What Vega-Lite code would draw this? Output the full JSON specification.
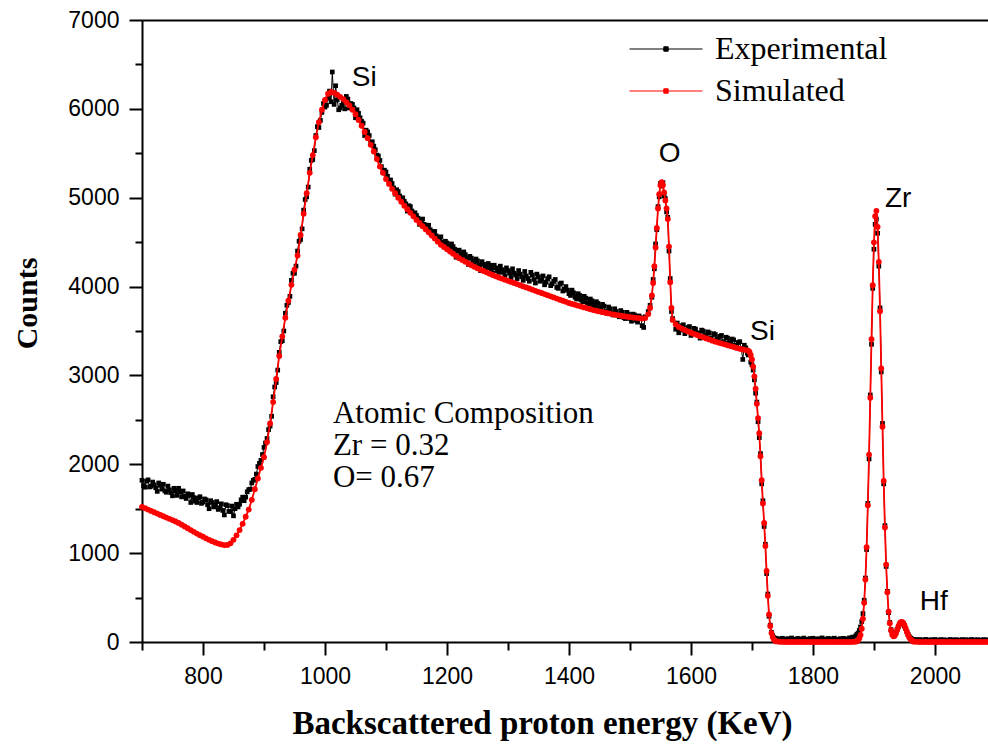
{
 "$schema": "https://vega.github.io/schema/vega-lite/v6.json",
 "width": 846, "height": 622,
 "autosize": {"type": "none"},
 "padding": {"left": 142, "top": 20, "right": 0, "bottom": 104},
 "background": "white",
 "config": {"view": {"stroke": null}, "axis": {"grid": false, "domainColor": "#000", "tickColor": "#000", "labelColor": "#000", "titleColor": "#000", "ticks": true, "tickOpacity": 1, "domainOpacity": 1}},
 "datasets": {
  "spec": [
{"E":700,"Experimental":1820,"Simulated":1520},{"E":705,"Experimental":1742,"Simulated":1505},{"E":710,"Experimental":1825,"Simulated":1490},{"E":715,"Experimental":1753,"Simulated":1475},{"E":720,"Experimental":1770,"Simulated":1460},{"E":725,"Experimental":1695,"Simulated":1445},{"E":730,"Experimental":1765,"Simulated":1430},{"E":735,"Experimental":1775,"Simulated":1415},{"E":740,"Experimental":1685,"Simulated":1400},{"E":745,"Experimental":1713,"Simulated":1386},{"E":750,"Experimental":1645,"Simulated":1372},{"E":755,"Experimental":1703,"Simulated":1356},{"E":760,"Experimental":1730,"Simulated":1340},{"E":765,"Experimental":1633,"Simulated":1320},{"E":770,"Experimental":1640,"Simulated":1300},{"E":775,"Experimental":1668,"Simulated":1280},{"E":780,"Experimental":1570,"Simulated":1260},{"E":785,"Experimental":1625,"Simulated":1240},{"E":790,"Experimental":1570,"Simulated":1220},{"E":795,"Experimental":1635,"Simulated":1202},{"E":800,"Experimental":1575,"Simulated":1185},{"E":805,"Experimental":1600,"Simulated":1167},{"E":810,"Experimental":1500,"Simulated":1150},{"E":815,"Experimental":1570,"Simulated":1135},{"E":820,"Experimental":1545,"Simulated":1120},{"E":825,"Experimental":1492,"Simulated":1108},{"E":830,"Experimental":1555,"Simulated":1098},{"E":835,"Experimental":1430,"Simulated":1091},{"E":840,"Experimental":1535,"Simulated":1093},{"E":845,"Experimental":1467,"Simulated":1110},{"E":850,"Experimental":1420,"Simulated":1150},{"E":855,"Experimental":1550,"Simulated":1200},{"E":860,"Experimental":1550,"Simulated":1260},{"E":865,"Experimental":1630,"Simulated":1330},{"E":870,"Experimental":1630,"Simulated":1410},{"E":875,"Experimental":1715,"Simulated":1490},{"E":880,"Experimental":1790,"Simulated":1600},{"E":885,"Experimental":1830,"Simulated":1720},{"E":890,"Experimental":1975,"Simulated":1840},{"E":895,"Experimental":2045,"Simulated":1960},{"E":900,"Experimental":2190,"Simulated":2080},
{"E":702.5,"Experimental":1760},{"E":707.5,"Experimental":1810},{"E":712.5,"Experimental":1745},{"E":717.5,"Experimental":1800},{"E":722.5,"Experimental":1735},{"E":727.5,"Experimental":1790},{"E":732.5,"Experimental":1720},{"E":737.5,"Experimental":1700},{"E":742.5,"Experimental":1755},{"E":747.5,"Experimental":1680},{"E":752.5,"Experimental":1730},{"E":757.5,"Experimental":1650},{"E":762.5,"Experimental":1690},{"E":767.5,"Experimental":1700},{"E":772.5,"Experimental":1615},{"E":777.5,"Experimental":1650},{"E":782.5,"Experimental":1660},{"E":787.5,"Experimental":1585},{"E":792.5,"Experimental":1620},{"E":797.5,"Experimental":1560},{"E":802.5,"Experimental":1610},{"E":807.5,"Experimental":1545},{"E":812.5,"Experimental":1590},{"E":817.5,"Experimental":1520},{"E":822.5,"Experimental":1580},{"E":827.5,"Experimental":1510},{"E":832.5,"Experimental":1480},{"E":837.5,"Experimental":1545},{"E":842.5,"Experimental":1470},{"E":847.5,"Experimental":1530},{"E":852.5,"Experimental":1500},{"E":857.5,"Experimental":1520},{"E":862.5,"Experimental":1600},{"E":867.5,"Experimental":1590},{"E":872.5,"Experimental":1690},{"E":877.5,"Experimental":1720},{"E":882.5,"Experimental":1820},{"E":887.5,"Experimental":1890},{"E":892.5,"Experimental":2010},{"E":897.5,"Experimental":2110},{"E":902.5,"Experimental":2240},
{"E":905,"Experimental":2290,"Simulated":2250},{"E":910,"Experimental":2430,"Simulated":2460},{"E":915,"Experimental":2760,"Simulated":2700},{"E":920,"Experimental":2920,"Simulated":2960},{"E":925,"Experimental":3260,"Simulated":3220},{"E":930,"Experimental":3390,"Simulated":3440},{"E":935,"Experimental":3700,"Simulated":3650},{"E":940,"Experimental":3820,"Simulated":3840},{"E":945,"Experimental":4070,"Simulated":4020},{"E":950,"Experimental":4150,"Simulated":4190},{"E":955,"Experimental":4400,"Simulated":4350},{"E":960,"Experimental":4530,"Simulated":4580},{"E":965,"Experimental":4860,"Simulated":4820},{"E":970,"Experimental":5010,"Simulated":5050},{"E":975,"Experimental":5320,"Simulated":5280},{"E":980,"Experimental":5430,"Simulated":5480},{"E":985,"Experimental":5700,"Simulated":5680},{"E":990,"Experimental":5790,"Simulated":5850},{"E":995,"Experimental":5960,"Simulated":5990},{"E":1000,"Experimental":6020,"Simulated":6100},{"E":1005,"Experimental":6120,"Simulated":6170},{"E":1010,"Experimental":6080,"Simulated":6190},{"E":1012,"Experimental":6415},{"E":1015,"Experimental":6050,"Simulated":6180},{"E":1020,"Experimental":6100,"Simulated":6160},{"E":1025,"Experimental":6010,"Simulated":6135},{"E":1030,"Experimental":6070,"Simulated":6110},{"E":1035,"Experimental":6140,"Simulated":6075},{"E":1040,"Experimental":6010,"Simulated":6040},{"E":1045,"Experimental":6050,"Simulated":5990},{"E":1050,"Experimental":5900,"Simulated":5940},{"E":1055,"Experimental":5950,"Simulated":5875},{"E":1060,"Experimental":5860,"Simulated":5810},{"E":1065,"Experimental":5700,"Simulated":5740},{"E":1070,"Experimental":5740,"Simulated":5670},{"E":1075,"Experimental":5620,"Simulated":5595},{"E":1080,"Experimental":5580,"Simulated":5520},{"E":1085,"Experimental":5480,"Simulated":5435},{"E":1090,"Experimental":5420,"Simulated":5350},{"E":1095,"Experimental":5300,"Simulated":5280},{"E":1100,"Experimental":5290,"Simulated":5210},
{"E":907.5,"Experimental":2390},{"E":912.5,"Experimental":2540},{"E":917.5,"Experimental":2870},{"E":922.5,"Experimental":3060},{"E":927.5,"Experimental":3380},{"E":932.5,"Experimental":3500},{"E":937.5,"Experimental":3790},{"E":942.5,"Experimental":3890},{"E":947.5,"Experimental":4150},{"E":952.5,"Experimental":4230},{"E":957.5,"Experimental":4510},{"E":962.5,"Experimental":4650},{"E":967.5,"Experimental":4980},{"E":972.5,"Experimental":5120},{"E":977.5,"Experimental":5420},{"E":982.5,"Experimental":5530},{"E":987.5,"Experimental":5800},{"E":992.5,"Experimental":5870},{"E":997.5,"Experimental":6060},{"E":1002.5,"Experimental":6040},{"E":1007.5,"Experimental":6200},{"E":1017.5,"Experimental":6260},{"E":1022.5,"Experimental":5990},{"E":1027.5,"Experimental":6040},{"E":1032.5,"Experimental":6000},{"E":1037.5,"Experimental":6110},{"E":1042.5,"Experimental":6060},{"E":1047.5,"Experimental":6010},{"E":1052.5,"Experimental":5990},{"E":1057.5,"Experimental":5900},{"E":1062.5,"Experimental":5840},{"E":1067.5,"Experimental":5760},{"E":1072.5,"Experimental":5700},{"E":1077.5,"Experimental":5630},{"E":1082.5,"Experimental":5540},{"E":1087.5,"Experimental":5470},{"E":1092.5,"Experimental":5350},{"E":1097.5,"Experimental":5310},
{"E":1105,"Experimental":5180,"Simulated":5155},{"E":1110,"Experimental":5160,"Simulated":5100},{"E":1115,"Experimental":5040,"Simulated":5050},{"E":1120,"Experimental":5070,"Simulated":5000},{"E":1125,"Experimental":4990,"Simulated":4955},{"E":1130,"Experimental":4960,"Simulated":4910},{"E":1135,"Experimental":4850,"Simulated":4870},{"E":1140,"Experimental":4900,"Simulated":4830},{"E":1145,"Experimental":4820,"Simulated":4790},{"E":1150,"Experimental":4800,"Simulated":4750},{"E":1155,"Experimental":4700,"Simulated":4715},{"E":1160,"Experimental":4760,"Simulated":4680},{"E":1165,"Experimental":4660,"Simulated":4645},{"E":1170,"Experimental":4690,"Simulated":4610},{"E":1175,"Experimental":4590,"Simulated":4575},{"E":1180,"Experimental":4620,"Simulated":4540},{"E":1185,"Experimental":4520,"Simulated":4505},{"E":1190,"Experimental":4560,"Simulated":4470},{"E":1195,"Experimental":4480,"Simulated":4445},{"E":1200,"Experimental":4490,"Simulated":4420},{"E":1205,"Experimental":4420,"Simulated":4395},{"E":1210,"Experimental":4450,"Simulated":4370},{"E":1215,"Experimental":4330,"Simulated":4345},{"E":1220,"Experimental":4410,"Simulated":4320},{"E":1225,"Experimental":4340,"Simulated":4300},{"E":1230,"Experimental":4360,"Simulated":4280},{"E":1235,"Experimental":4250,"Simulated":4260},{"E":1240,"Experimental":4320,"Simulated":4240},{"E":1245,"Experimental":4260,"Simulated":4222},{"E":1250,"Experimental":4290,"Simulated":4205},{"E":1255,"Experimental":4180,"Simulated":4190},{"E":1260,"Experimental":4250,"Simulated":4175},{"E":1265,"Experimental":4210,"Simulated":4160},{"E":1270,"Experimental":4240,"Simulated":4145},{"E":1275,"Experimental":4150,"Simulated":4130},{"E":1280,"Experimental":4210,"Simulated":4115},{"E":1285,"Experimental":4160,"Simulated":4102},{"E":1290,"Experimental":4190,"Simulated":4090},{"E":1295,"Experimental":4120,"Simulated":4078},{"E":1300,"Experimental":4180,"Simulated":4065},
{"E":1102.5,"Experimental":5240},{"E":1107.5,"Experimental":5200},{"E":1112.5,"Experimental":5110},{"E":1117.5,"Experimental":5090},{"E":1122.5,"Experimental":5020},{"E":1127.5,"Experimental":5000},{"E":1132.5,"Experimental":4930},{"E":1137.5,"Experimental":4910},{"E":1142.5,"Experimental":4850},{"E":1147.5,"Experimental":4830},{"E":1152.5,"Experimental":4770},{"E":1157.5,"Experimental":4750},{"E":1162.5,"Experimental":4700},{"E":1167.5,"Experimental":4690},{"E":1172.5,"Experimental":4640},{"E":1177.5,"Experimental":4620},{"E":1182.5,"Experimental":4570},{"E":1187.5,"Experimental":4550},{"E":1192.5,"Experimental":4500},{"E":1197.5,"Experimental":4510},{"E":1202.5,"Experimental":4460},{"E":1207.5,"Experimental":4480},{"E":1212.5,"Experimental":4420},{"E":1217.5,"Experimental":4400},{"E":1222.5,"Experimental":4370},{"E":1227.5,"Experimental":4390},{"E":1232.5,"Experimental":4320},{"E":1237.5,"Experimental":4340},{"E":1242.5,"Experimental":4290},{"E":1247.5,"Experimental":4310},{"E":1252.5,"Experimental":4240},{"E":1257.5,"Experimental":4280},{"E":1262.5,"Experimental":4230},{"E":1267.5,"Experimental":4260},{"E":1272.5,"Experimental":4200},{"E":1277.5,"Experimental":4240},{"E":1282.5,"Experimental":4180},{"E":1287.5,"Experimental":4230},{"E":1292.5,"Experimental":4160},{"E":1297.5,"Experimental":4210},
{"E":1305,"Experimental":4100,"Simulated":4052},{"E":1310,"Experimental":4150,"Simulated":4040},{"E":1315,"Experimental":4090,"Simulated":4028},{"E":1320,"Experimental":4140,"Simulated":4015},{"E":1325,"Experimental":4070,"Simulated":4002},{"E":1330,"Experimental":4120,"Simulated":3990},{"E":1335,"Experimental":4060,"Simulated":3978},{"E":1340,"Experimental":4130,"Simulated":3965},{"E":1345,"Experimental":4040,"Simulated":3952},{"E":1350,"Experimental":4110,"Simulated":3940},{"E":1355,"Experimental":4070,"Simulated":3928},{"E":1360,"Experimental":4020,"Simulated":3915},{"E":1365,"Experimental":4090,"Simulated":3902},{"E":1370,"Experimental":4010,"Simulated":3890},{"E":1375,"Experimental":4060,"Simulated":3878},{"E":1380,"Experimental":3990,"Simulated":3865},{"E":1385,"Experimental":4030,"Simulated":3852},{"E":1390,"Experimental":3950,"Simulated":3840},{"E":1395,"Experimental":4000,"Simulated":3828},{"E":1400,"Experimental":3920,"Simulated":3815},{"E":1405,"Experimental":3960,"Simulated":3805},{"E":1410,"Experimental":3880,"Simulated":3795},{"E":1415,"Experimental":3920,"Simulated":3785},{"E":1420,"Experimental":3850,"Simulated":3775},{"E":1425,"Experimental":3890,"Simulated":3765},{"E":1430,"Experimental":3820,"Simulated":3755},{"E":1435,"Experimental":3860,"Simulated":3745},{"E":1440,"Experimental":3790,"Simulated":3735},{"E":1445,"Experimental":3830,"Simulated":3728},{"E":1450,"Experimental":3760,"Simulated":3720},{"E":1455,"Experimental":3800,"Simulated":3712},{"E":1460,"Experimental":3720,"Simulated":3705},{"E":1465,"Experimental":3770,"Simulated":3698},{"E":1470,"Experimental":3700,"Simulated":3690},{"E":1475,"Experimental":3750,"Simulated":3684},{"E":1480,"Experimental":3680,"Simulated":3678},{"E":1485,"Experimental":3730,"Simulated":3672},{"E":1490,"Experimental":3650,"Simulated":3666},{"E":1495,"Experimental":3710,"Simulated":3661},{"E":1500,"Experimental":3640,"Simulated":3656},{"E":1505,"Experimental":3690,"Simulated":3652},{"E":1510,"Experimental":3620,"Simulated":3648},{"E":1515,"Experimental":3670,"Simulated":3644},{"E":1520,"Experimental":3560,"Simulated":3640},{"E":1525,"Experimental":3660,"Simulated":3645},
{"E":1302.5,"Experimental":4150},{"E":1307.5,"Experimental":4200},{"E":1312.5,"Experimental":4130},{"E":1317.5,"Experimental":4180},{"E":1322.5,"Experimental":4110},{"E":1327.5,"Experimental":4170},{"E":1332.5,"Experimental":4090},{"E":1337.5,"Experimental":4160},{"E":1342.5,"Experimental":4080},{"E":1347.5,"Experimental":4140},{"E":1352.5,"Experimental":4060},{"E":1357.5,"Experimental":4120},{"E":1362.5,"Experimental":4050},{"E":1367.5,"Experimental":4110},{"E":1372.5,"Experimental":4030},{"E":1377.5,"Experimental":4080},{"E":1382.5,"Experimental":3980},{"E":1387.5,"Experimental":4040},{"E":1392.5,"Experimental":3970},{"E":1397.5,"Experimental":3960},{"E":1402.5,"Experimental":3900},{"E":1407.5,"Experimental":3930},{"E":1412.5,"Experimental":3860},{"E":1417.5,"Experimental":3900},{"E":1422.5,"Experimental":3830},{"E":1427.5,"Experimental":3870},{"E":1432.5,"Experimental":3800},{"E":1437.5,"Experimental":3840},{"E":1442.5,"Experimental":3770},{"E":1447.5,"Experimental":3810},{"E":1452.5,"Experimental":3740},{"E":1457.5,"Experimental":3780},{"E":1462.5,"Experimental":3700},{"E":1467.5,"Experimental":3750},{"E":1472.5,"Experimental":3680},{"E":1477.5,"Experimental":3720},{"E":1482.5,"Experimental":3660},{"E":1487.5,"Experimental":3710},{"E":1492.5,"Experimental":3640},{"E":1497.5,"Experimental":3690},{"E":1502.5,"Experimental":3610},{"E":1507.5,"Experimental":3680},{"E":1512.5,"Experimental":3600},{"E":1517.5,"Experimental":3650},{"E":1522.5,"Experimental":3540},
{"E":1530,"Experimental":3720,"Simulated":3690},{"E":1533,"Experimental":3790,"Simulated":3760},{"E":1536,"Experimental":3880,"Simulated":3900},{"E":1538,"Experimental":4080,"Simulated":4040},{"E":1540,"Experimental":4200,"Simulated":4230},{"E":1542,"Experimental":4480,"Simulated":4440},{"E":1544,"Experimental":4640,"Simulated":4660},{"E":1546,"Experimental":4900,"Simulated":4880},{"E":1548,"Experimental":5010,"Simulated":5040},{"E":1550,"Experimental":5160,"Simulated":5140},{"E":1552,"Experimental":5130,"Simulated":5175},{"E":1554,"Experimental":5170,"Simulated":5140},{"E":1556,"Experimental":5020,"Simulated":5060},{"E":1558,"Experimental":4990,"Simulated":4970},{"E":1560,"Experimental":4840,"Simulated":4880},{"E":1562,"Experimental":4780,"Simulated":4760},{"E":1564,"Experimental":4400,"Simulated":4450},{"E":1566,"Experimental":4090,"Simulated":4050},{"E":1568,"Experimental":3720,"Simulated":3760},{"E":1570,"Experimental":3640,"Simulated":3625},{"E":1575,"Experimental":3520,"Simulated":3575},
{"E":1580,"Experimental":3480,"Simulated":3545},{"E":1585,"Experimental":3560,"Simulated":3527},{"E":1590,"Experimental":3470,"Simulated":3510},{"E":1595,"Experimental":3540,"Simulated":3495},{"E":1600,"Experimental":3450,"Simulated":3480},{"E":1605,"Experimental":3530,"Simulated":3467},{"E":1610,"Experimental":3480,"Simulated":3455},{"E":1615,"Experimental":3420,"Simulated":3442},{"E":1620,"Experimental":3500,"Simulated":3430},{"E":1625,"Experimental":3440,"Simulated":3417},{"E":1630,"Experimental":3480,"Simulated":3405},{"E":1635,"Experimental":3390,"Simulated":3392},{"E":1640,"Experimental":3460,"Simulated":3380},{"E":1645,"Experimental":3400,"Simulated":3370},{"E":1650,"Experimental":3450,"Simulated":3360},{"E":1655,"Experimental":3360,"Simulated":3350},{"E":1660,"Experimental":3420,"Simulated":3340},{"E":1665,"Experimental":3350,"Simulated":3330},{"E":1670,"Experimental":3400,"Simulated":3320},{"E":1675,"Experimental":3320,"Simulated":3310},{"E":1680,"Experimental":3380,"Simulated":3300},{"E":1685,"Experimental":3180,"Simulated":3292},{"E":1690,"Experimental":3310,"Simulated":3285},{"E":1694,"Experimental":3230,"Simulated":3278},
{"E":1577.5,"Experimental":3590},{"E":1582.5,"Experimental":3510},{"E":1587.5,"Experimental":3570},{"E":1592.5,"Experimental":3500},{"E":1597.5,"Experimental":3550},{"E":1602.5,"Experimental":3490},{"E":1607.5,"Experimental":3520},{"E":1612.5,"Experimental":3470},{"E":1617.5,"Experimental":3510},{"E":1622.5,"Experimental":3450},{"E":1627.5,"Experimental":3490},{"E":1632.5,"Experimental":3420},{"E":1637.5,"Experimental":3470},{"E":1642.5,"Experimental":3410},{"E":1647.5,"Experimental":3440},{"E":1652.5,"Experimental":3380},{"E":1657.5,"Experimental":3430},{"E":1662.5,"Experimental":3370},{"E":1667.5,"Experimental":3410},{"E":1672.5,"Experimental":3340},{"E":1677.5,"Experimental":3370},{"E":1682.5,"Experimental":3300},{"E":1687.5,"Experimental":3340},{"E":1692.5,"Experimental":3250},
{"E":1696,"Experimental":3260,"Simulated":3265},{"E":1698,"Experimental":3150,"Simulated":3230},{"E":1700,"Experimental":3120,"Simulated":3180},{"E":1702,"Experimental":3060,"Simulated":3100},{"E":1704,"Experimental":2950,"Simulated":2990},{"E":1706,"Experimental":2800,"Simulated":2850},{"E":1708,"Experimental":2700,"Simulated":2680},{"E":1710,"Experimental":2480,"Simulated":2520},{"E":1712,"Experimental":2300,"Simulated":2350},{"E":1714,"Experimental":2120,"Simulated":2090},{"E":1716,"Experimental":1780,"Simulated":1820},{"E":1718,"Experimental":1590,"Simulated":1560},{"E":1720,"Experimental":1300,"Simulated":1340},{"E":1722,"Experimental":1100,"Simulated":1080},{"E":1724,"Experimental":770,"Simulated":800},{"E":1726,"Experimental":540,"Simulated":520},{"E":1728,"Experimental":290,"Simulated":310},{"E":1730,"Experimental":190,"Simulated":180},{"E":1732,"Experimental":110,"Simulated":100},{"E":1734,"Experimental":70,"Simulated":55},{"E":1736,"Experimental":50,"Simulated":28},{"E":1738,"Experimental":42,"Simulated":14},{"E":1740,"Experimental":38,"Simulated":7},
{"E":1745,"Experimental":36,"Simulated":3},{"E":1750,"Experimental":42,"Simulated":1},{"E":1755,"Experimental":33,"Simulated":0},{"E":1760,"Experimental":38,"Simulated":0},{"E":1765,"Experimental":45,"Simulated":0},{"E":1770,"Experimental":31,"Simulated":0},{"E":1775,"Experimental":40,"Simulated":0},{"E":1780,"Experimental":35,"Simulated":0},{"E":1785,"Experimental":44,"Simulated":0},{"E":1790,"Experimental":30,"Simulated":0},{"E":1795,"Experimental":39,"Simulated":0},{"E":1800,"Experimental":42,"Simulated":0},{"E":1805,"Experimental":34,"Simulated":0},{"E":1810,"Experimental":37,"Simulated":0},{"E":1815,"Experimental":46,"Simulated":0},{"E":1820,"Experimental":33,"Simulated":0},{"E":1825,"Experimental":40,"Simulated":0},{"E":1830,"Experimental":36,"Simulated":0},{"E":1835,"Experimental":43,"Simulated":0},{"E":1840,"Experimental":31,"Simulated":0},{"E":1845,"Experimental":38,"Simulated":0},{"E":1850,"Experimental":41,"Simulated":0},{"E":1855,"Experimental":36,"Simulated":0},{"E":1860,"Experimental":47,"Simulated":0},{"E":1865,"Experimental":55,"Simulated":1},{"E":1870,"Experimental":68,"Simulated":4},
{"E":1872,"Experimental":85,"Simulated":9},{"E":1874,"Experimental":100,"Simulated":20},{"E":1876,"Experimental":130,"Simulated":41},{"E":1878,"Experimental":170,"Simulated":80},{"E":1880,"Experimental":230,"Simulated":149},{"E":1882,"Experimental":320,"Simulated":263},{"E":1884,"Experimental":470,"Simulated":441},{"E":1886,"Experimental":720,"Simulated":703},{"E":1888,"Experimental":1040,"Simulated":1066},{"E":1890,"Experimental":1560,"Simulated":1538},{"E":1892,"Experimental":2060,"Simulated":2109},{"E":1894,"Experimental":2780,"Simulated":2749},{"E":1896,"Experimental":3350,"Simulated":3407},{"E":1898,"Experimental":3980,"Simulated":4015},{"E":1900,"Experimental":4420,"Simulated":4498},{"E":1902,"Experimental":4700,"Simulated":4791},{"E":1904,"Experimental":4760,"Simulated":4852},{"E":1906,"Experimental":4600,"Simulated":4672},{"E":1908,"Experimental":4230,"Simulated":4277},{"E":1910,"Experimental":3760,"Simulated":3723},{"E":1912,"Experimental":3040,"Simulated":3080},{"E":1914,"Experimental":2460,"Simulated":2423},{"E":1916,"Experimental":1780,"Simulated":1812},{"E":1918,"Experimental":1310,"Simulated":1289},{"E":1920,"Experimental":850,"Simulated":871},{"E":1922,"Experimental":570,"Simulated":560},{"E":1924,"Experimental":330,"Simulated":342},{"E":1926,"Experimental":220,"Simulated":210},{"E":1928,"Experimental":140,"Simulated":130},{"E":1930,"Experimental":100,"Simulated":85},{"E":1932,"Experimental":80,"Simulated":65},{"E":1934,"Experimental":85,"Simulated":70},{"E":1936,"Experimental":105,"Simulated":95},{"E":1938,"Experimental":140,"Simulated":135},{"E":1940,"Experimental":170,"Simulated":175},{"E":1942,"Experimental":200,"Simulated":205},{"E":1944,"Experimental":215,"Simulated":222},{"E":1946,"Experimental":220,"Simulated":225},{"E":1948,"Experimental":205,"Simulated":215},{"E":1950,"Experimental":180,"Simulated":190},{"E":1952,"Experimental":150,"Simulated":155},{"E":1954,"Experimental":115,"Simulated":115},{"E":1956,"Experimental":85,"Simulated":80},{"E":1958,"Experimental":60,"Simulated":50},{"E":1960,"Experimental":45,"Simulated":30},{"E":1962,"Experimental":35,"Simulated":16},{"E":1964,"Experimental":30,"Simulated":8},{"E":1966,"Experimental":28,"Simulated":4},{"E":1970,"Experimental":26,"Simulated":2},
{"E":1975,"Experimental":27,"Simulated":0},{"E":1980,"Experimental":24,"Simulated":0},{"E":1985,"Experimental":29,"Simulated":0},{"E":1990,"Experimental":23,"Simulated":0},{"E":1995,"Experimental":26,"Simulated":0},{"E":2000,"Experimental":28,"Simulated":0},{"E":2005,"Experimental":22,"Simulated":0},{"E":2010,"Experimental":27,"Simulated":0},{"E":2015,"Experimental":25,"Simulated":0},{"E":2020,"Experimental":21,"Simulated":0},{"E":2025,"Experimental":28,"Simulated":0},{"E":2030,"Experimental":24,"Simulated":0},{"E":2035,"Experimental":26,"Simulated":0},{"E":2040,"Experimental":22,"Simulated":0},{"E":2045,"Experimental":27,"Simulated":0},{"E":2050,"Experimental":25,"Simulated":0},{"E":2055,"Experimental":23,"Simulated":0},{"E":2060,"Experimental":28,"Simulated":0},{"E":2065,"Experimental":24,"Simulated":0},{"E":2070,"Experimental":26,"Simulated":0},{"E":2075,"Experimental":22,"Simulated":0},{"E":2080,"Experimental":27,"Simulated":0},{"E":2085,"Experimental":25,"Simulated":0}
  ],
  "notes": [
   {"E":1044,"C":6254,"t":"Si","k":"p"},
   {"E":1547,"C":5401,"t":"O","k":"p"},
   {"E":1918,"C":4895,"t":"Zr","k":"p"},
   {"E":1975,"C":360,"t":"Hf","k":"p"},
   {"E":1697,"C":3397,"t":"Si","k":"p"},
   {"E":1013,"C":2464,"t":"Atomic Composition","k":"c"},
   {"E":1013,"C":2104,"t":"Zr = 0.32","k":"c"},
   {"E":1013,"C":1744,"t":"O= 0.67","k":"c"}
  ]
 },
 "layer": [
  {
   "data": {"name": "spec"},
   "transform": [{"fold": ["Experimental", "Simulated"], "as": ["series", "C"]}, {"filter": "isValid(datum.C) && datum.series == 'Experimental'"}],
   "mark": {"type": "line", "strokeWidth": 1},
   "encoding": {
    "x": {"field": "E", "type": "quantitative", "scale": {"domain": [700, 2087], "nice": false, "zero": false},
      "axis": {"orient": "bottom", "values": [800, 1000, 1200, 1400, 1600, 1800, 2000], "format": "d", "labelFont": "Liberation Sans", "labelFontSize": 23, "labelPadding": 10, "labelFlush": false, "labelOverlap": false, "ticks": true, "tickSize": 13, "tickWidth": 2, "tickColor": "#000", "domainWidth": 2, "domainColor": "#000", "title": "Backscattered proton energy (KeV)", "titleFont": "Liberation Serif", "titleFontSize": 33, "titleFontWeight": "bold", "titleX": 400, "titleY": 91, "titleBaseline": "alphabetic"}},
    "y": {"field": "C", "type": "quantitative", "scale": {"domain": [0, 7000], "nice": false},
      "axis": {"orient": "left", "values": [0, 1000, 2000, 3000, 4000, 5000, 6000, 7000], "format": "d", "labelFont": "Liberation Sans", "labelFontSize": 23, "labelPadding": 10, "labelFlush": false, "labelOverlap": false, "ticks": true, "tickSize": 13, "tickWidth": 2, "tickColor": "#000", "domainWidth": 2, "domainColor": "#000", "title": "Counts", "titleFont": "Liberation Serif", "titleFontSize": 30, "titleFontWeight": "bold", "titleAngle": 270, "titleX": -106, "titleY": 283, "titleBaseline": "alphabetic"}},
    "color": {"field": "series", "type": "nominal", "scale": {"domain": ["Experimental", "Simulated"], "range": ["#000000", "#ff0000"]},
      "legend": {"title": null, "orient": "none", "legendX": 508, "legendY": 13, "direction": "vertical", "symbolType": "M-4,0H4M-0.24,-0.24H0.24V0.24H-0.24Z", "symbolSize": 333, "symbolStrokeWidth": 1, "symbolOpacity": 1, "labelFont": "Liberation Serif", "labelFontSize": 32, "labelColor": "#000", "labelOffset": 33, "rowPadding": 10, "padding": 0, "labelLimit": 400,
        "encode": {"symbols": {"update": {"fill": {"scale": "color", "field": "value"}, "stroke": {"scale": "color", "field": "value"}}}}}}
   }
  },
  {
   "data": {"name": "spec"},
   "transform": [{"fold": ["Experimental", "Simulated"], "as": ["series", "C"]}, {"filter": "isValid(datum.C) && datum.series == 'Experimental'"}],
   "mark": {"type": "point", "shape": "square", "filled": true, "size": 22, "opacity": 1},
   "encoding": {
    "x": {"field": "E", "type": "quantitative", "axis": {"orient": "bottom", "values": [700, 900, 1100, 1300, 1500, 1700, 1900], "labels": false, "domain": false, "ticks": true, "tickSize": 8, "tickWidth": 2, "tickColor": "#000", "title": null}},
    "y": {"field": "C", "type": "quantitative", "axis": {"orient": "left", "values": [500, 1500, 2500, 3500, 4500, 5500, 6500], "labels": false, "domain": false, "ticks": true, "tickSize": 7, "tickWidth": 2, "tickColor": "#000", "title": null}},
    "color": {"field": "series", "type": "nominal"}
   }
  },
  {
   "data": {"name": "spec"},
   "transform": [{"fold": ["Experimental", "Simulated"], "as": ["series", "C"]}, {"filter": "isValid(datum.C) && datum.series == 'Simulated'"}],
   "mark": {"type": "line", "strokeWidth": 1.8},
   "encoding": {
    "x": {"field": "E", "type": "quantitative", "axis": {"orient": "top", "ticks": false, "labels": false, "domainWidth": 2, "domainColor": "#000", "title": null}},
    "y": {"field": "C", "type": "quantitative", "axis": null},
    "color": {"field": "series", "type": "nominal"}
   }
  },
  {
   "data": {"name": "spec"},
   "transform": [{"fold": ["Experimental", "Simulated"], "as": ["series", "C"]}, {"filter": "isValid(datum.C) && datum.series == 'Simulated'"}],
   "mark": {"type": "point", "shape": "circle", "filled": true, "size": 34, "opacity": 1},
   "encoding": {
    "x": {"field": "E", "type": "quantitative", "axis": null},
    "y": {"field": "C", "type": "quantitative", "axis": null},
    "color": {"field": "series", "type": "nominal"}
   }
  },
  {
   "data": {"name": "notes"},
   "transform": [{"filter": "datum.k == 'p'"}],
   "mark": {"type": "text", "align": "left", "baseline": "alphabetic", "font": "Liberation Sans", "fontSize": 28, "color": "#000"},
   "encoding": {
    "x": {"field": "E", "type": "quantitative", "axis": null},
    "y": {"field": "C", "type": "quantitative", "axis": null},
    "text": {"field": "t"}
   }
  },
  {
   "data": {"name": "notes"},
   "transform": [{"filter": "datum.k == 'c'"}],
   "mark": {"type": "text", "align": "left", "baseline": "alphabetic", "font": "Liberation Serif", "fontSize": 31, "color": "#000"},
   "encoding": {
    "x": {"field": "E", "type": "quantitative", "axis": null},
    "y": {"field": "C", "type": "quantitative", "axis": null},
    "text": {"field": "t"}
   }
  }
 ],
 "resolve": {"axis": {"x": "independent", "y": "independent"}}
}
